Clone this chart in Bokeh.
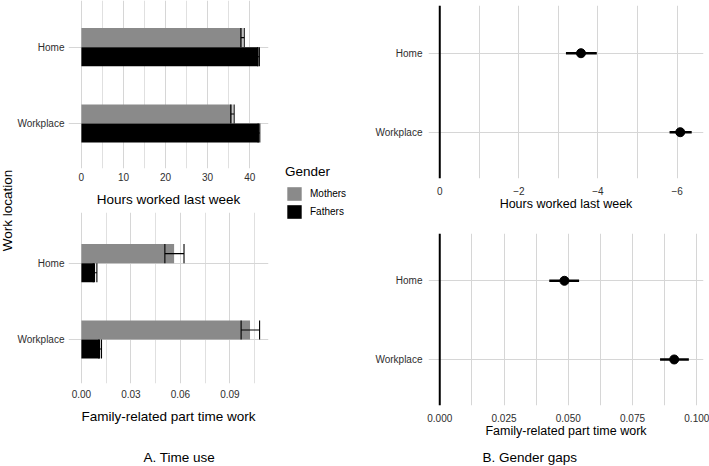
import math
from bokeh.plotting import figure
from bokeh.models import Range1d, FixedTicker, Span, Legend, LegendItem, Label
from bokeh.layouts import row, column
from bokeh.embed import file_html
from bokeh.resources import INLINE

# ---------------- data ----------------
locations = ["Home", "Workplace"]
genders = ["Mothers", "Fathers"]
captions = ["A. Time use", "B. Gender gaps"]

hours_mothers = [38.3, 35.9]
hours_mothers_lo = [37.9, 35.5]
hours_mothers_hi = [38.7, 36.3]
hours_fathers = [42.1, 42.2]
hours_fathers_lo = [41.9, 42.0]
hours_fathers_hi = [42.3, 42.4]

pt_mothers = [0.0562, 0.1022]
pt_mothers_lo = [0.0506, 0.0968]
pt_mothers_hi = [0.0622, 0.1080]
pt_fathers = [0.0083, 0.0114]
pt_fathers_lo = [0.0072, 0.0106]
pt_fathers_hi = [0.0094, 0.0122]

gap_hours = [-3.57, -6.08]
gap_hours_lo = [-3.19, -5.81]
gap_hours_hi = [-3.97, -6.37]
gap_pt = [0.0485, 0.0912]
gap_pt_lo = [0.0426, 0.0857]
gap_pt_hi = [0.0542, 0.0969]

hours_ticks = [0, 10, 20, 30, 40]
hours_minor = [5, 15, 25, 35]
pt_ticks = [0.0, 0.03, 0.06, 0.09]
pt_minor = [0.015, 0.045, 0.075, 0.105]
gap_hours_ticks = [0, -2, -4, -6]
gap_hours_minor = [-1, -3, -5]
gap_pt_ticks = [0.0, 0.025, 0.05, 0.075, 0.1]
gap_pt_minor = [0.0125, 0.0375, 0.0625, 0.0875]

# ---------------- style ----------------
FONT = "Liberation Sans"
GRID = "#d6d6d6"
MINOR = "#e0e0e0"
TICK_TXT = "#2e2e2e"
MOTHER_C = "#8a8a8a"
FATHER_C = "#000000"
BAR_H = 0.25

ypos = [len(locations) - 1 - i for i in range(len(locations))]


def base_fig(width, height, xr, yr, mbl, mbr, mbt, mbb, ystandoff):
    p = figure(width=width, height=height, x_range=xr, y_range=yr,
               output_backend="svg", toolbar_location=None,
               min_border_left=mbl, min_border_right=mbr,
               min_border_top=mbt, min_border_bottom=mbb)
    p.outline_line_color = None
    p.background_fill_color = "white"
    p.border_fill_color = "white"
    for ax in (p.xaxis[0], p.yaxis[0]):
        ax.axis_line_color = None
        ax.major_tick_line_color = None
        ax.minor_tick_line_color = None
        ax.major_tick_out = 0
        ax.major_tick_in = 0
        ax.minor_tick_out = 0
        ax.minor_tick_in = 0
        ax.major_label_text_font = FONT
        ax.major_label_text_font_size = "10px"
        ax.major_label_text_color = TICK_TXT
        ax.axis_label_text_font = FONT
        ax.axis_label_text_font_style = "normal"
        ax.axis_label_text_color = "black"
    p.yaxis.ticker = FixedTicker(ticks=ypos)
    p.yaxis.major_label_overrides = {ypos[i]: locations[i] for i in range(len(locations))}
    p.yaxis.major_label_standoff = ystandoff
    p.ygrid.ticker = FixedTicker(ticks=ypos)
    p.ygrid.grid_line_color = GRID
    p.ygrid.grid_line_width = 1
    p.xgrid.grid_line_color = GRID
    p.xgrid.grid_line_width = 1
    p.xgrid.minor_grid_line_color = MINOR
    p.xgrid.minor_grid_line_width = 1
    return p


def set_x(p, ticks, minor, labels, label_text, label_size, standoff, label_standoff):
    tk = FixedTicker(ticks=ticks, minor_ticks=minor)
    p.xaxis.ticker = tk
    p.xgrid.ticker = tk
    p.xaxis.major_label_overrides = {t: l for t, l in zip(ticks, labels)}
    p.xaxis.axis_label = label_text
    p.xaxis.axis_label_text_font_size = label_size
    p.xaxis.major_label_standoff = standoff
    p.xaxis.axis_label_standoff = label_standoff


def bars(p, m, mlo, mhi, f, flo, fhi):
    ym = [y + BAR_H / 2 for y in ypos]
    yf = [y - BAR_H / 2 for y in ypos]
    p.hbar(y=ym, left=0, right=m, height=BAR_H, fill_color=MOTHER_C, line_color=None)
    p.hbar(y=yf, left=0, right=f, height=BAR_H, fill_color=FATHER_C, line_color=None)
    for yy, lo, hi in ((ym, mlo, mhi), (yf, flo, fhi)):
        p.segment(x0=lo, x1=hi, y0=yy, y1=yy, line_color="black", line_width=1.1)
        p.segment(x0=lo, x1=lo, y0=[v - BAR_H / 2 for v in yy], y1=[v + BAR_H / 2 for v in yy],
                  line_color="black", line_width=1.1)
        p.segment(x0=hi, x1=hi, y0=[v - BAR_H / 2 for v in yy], y1=[v + BAR_H / 2 for v in yy],
                  line_color="black", line_width=1.1)


def points(p, v, lo, hi):
    p.add_layout(Span(location=0, dimension="height", line_color="black", line_width=2))
    p.segment(x0=lo, x1=hi, y0=ypos, y1=ypos, line_color="black", line_width=2.5)
    p.scatter(x=v, y=ypos, size=9, fill_color="black", line_color="black")


def fmt(t, nd):
    s = f"{t:.{nd}f}"
    return s.replace("-", "\u2212")


def blank(width, height, xr, yr):
    p = figure(width=width, height=height, x_range=xr, y_range=yr,
               output_backend="svg", toolbar_location=None,
               min_border_left=0, min_border_right=0, min_border_top=0, min_border_bottom=0)
    p.axis.visible = False
    p.grid.visible = False
    p.outline_line_color = None
    return p

# ---------------- panel A top ----------------
a_top = base_fig(258, 212, Range1d(-3.06, 44.47), Range1d(-0.590, 1.612), 52, 4, 0, 44, 4)
set_x(a_top, hours_ticks, hours_minor, [fmt(t, 0) for t in hours_ticks],
      "Hours worked last week", "13.5px", 4, 8)
bars(a_top, hours_mothers, hours_mothers_lo, hours_mothers_hi,
     hours_fathers, hours_fathers_lo, hours_fathers_hi)

# ---------------- panel A bottom ----------------
a_bot = base_fig(258, 228, Range1d(-0.0078, 0.1134), Range1d(-0.577, 1.664), 52, 4, 0, 57, 4)
set_x(a_bot, pt_ticks, pt_minor, [fmt(t, 2) for t in pt_ticks],
      "Family-related part time work", "13.5px", 6, 8)
bars(a_bot, pt_mothers, pt_mothers_lo, pt_mothers_hi,
     pt_fathers, pt_fathers_lo, pt_fathers_hi)

# ---------------- panel B top ----------------
b_top = base_fig(337, 233, Range1d(0.285, -6.668), Range1d(-0.586, 1.604), 55, 6, 5, 55, 6)
set_x(b_top, gap_hours_ticks, gap_hours_minor, [fmt(t, 0) for t in gap_hours_ticks],
      "Hours worked last week", "12.5px", 8, -1)
b_top.xgrid.minor_grid_line_color = GRID
points(b_top, gap_hours, gap_hours_lo, gap_hours_hi)

# ---------------- panel B bottom ----------------
b_bot = base_fig(337, 207, Range1d(-0.00438, 0.1026), Range1d(-0.585, 1.601), 55, 6, 0, 35, 6)
set_x(b_bot, gap_pt_ticks, gap_pt_minor, [fmt(t, 3) for t in gap_pt_ticks],
      "Family-related part time work", "12.5px", 8, -1)
b_bot.xgrid.minor_grid_line_color = GRID
points(b_bot, gap_pt, gap_pt_lo, gap_pt_hi)

# ---------------- y label strip ----------------
lab = blank(14, 420, Range1d(0, 1), Range1d(0, 1))
lab.add_layout(Label(x=0.5, y=0.5, text="Work location", angle=math.pi / 2,
                     text_align="center", text_baseline="middle",
                     text_font=FONT, text_font_size="13.5px", text_color="black"))

# ---------------- legend strip (bars kept out of view; only the key shows) ----------------
leg = blank(100, 224, Range1d(-2, -1), Range1d(0, 1))
r_m = leg.hbar(y=ypos, left=0, right=hours_mothers, height=BAR_H, fill_color=MOTHER_C, line_color=None)
r_f = leg.hbar(y=ypos, left=0, right=hours_fathers, height=BAR_H, fill_color=FATHER_C, line_color=None)
legend = Legend(items=[LegendItem(label=genders[0], renderers=[r_m]),
                       LegendItem(label=genders[1], renderers=[r_f])],
                title="Gender", location=(13, 4),
                glyph_width=18, glyph_height=17, label_height=17, spacing=1,
                label_standoff=7, padding=0, margin=0,
                border_line_color=None, background_fill_alpha=0,
                title_text_font=FONT, title_text_font_size="13.5px",
                title_text_font_style="normal", title_text_color="black", title_standoff=6,
                label_text_font=FONT, label_text_font_size="10px", label_text_color="black")
leg.add_layout(legend)

# ---------------- caption strip ----------------
cap = blank(709, 26, Range1d(0, 709), Range1d(0, 26))
for txt, cx in zip(captions, [143, 482]):
    cap.add_layout(Label(x=cx, y=9, text=txt, text_align="left", text_baseline="middle",
                         text_font=FONT, text_font_size="13.5px", text_color="black"))

layout = column(row(lab, column(a_top, a_bot), leg, column(b_top, b_bot)), cap)

open("out.html", "w").write(file_html(layout, INLINE))
